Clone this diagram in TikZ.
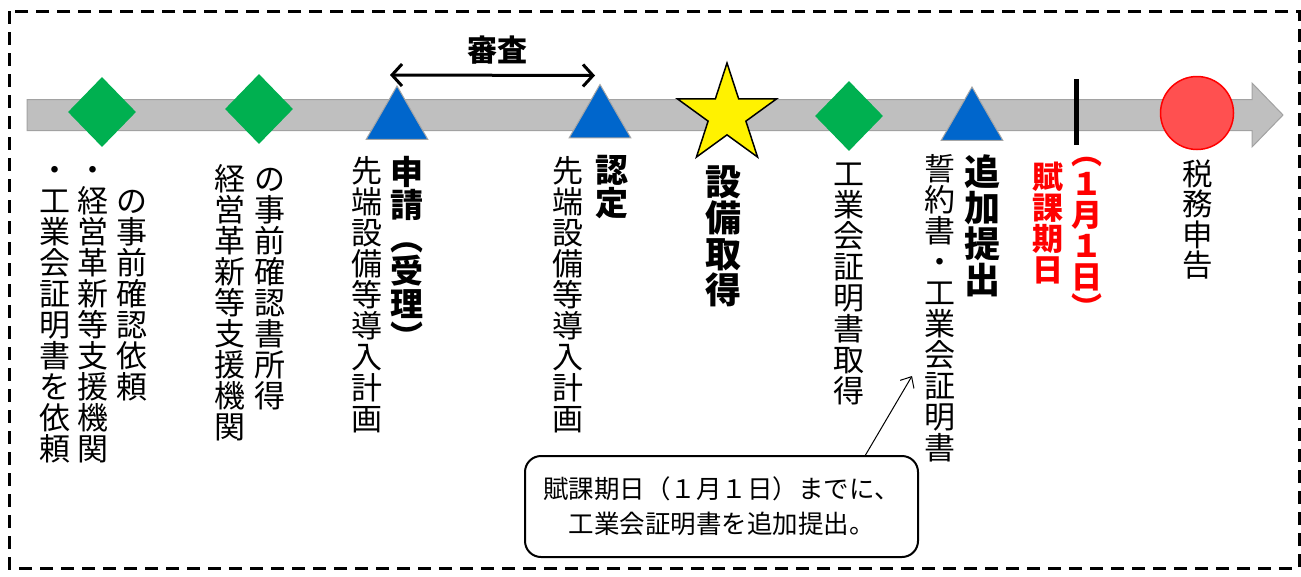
\documentclass[tikz,border=0pt]{standalone}
\usepackage{fontspec}
\setmainfont{Noto Sans CJK JP}
\usepackage{tikz}
\usetikzlibrary{shapes, arrows.meta, calc}
\definecolor{kgreen}{HTML}{00B050}
\definecolor{kblue}{HTML}{0066CC}
\definecolor{kgray}{HTML}{BFBFBF}
\definecolor{kred}{HTML}{FF5050}
\makeatletter
\newcommand{\tate}[1]
{%
	\vbox{\baselineskip=1em\lineskiplimit=-\maxdimen
		\@tfor\tch:=#1\do{\hbox to 1em{\hss\vrule height .88em depth .12em width 0pt\tch\hss}}}%
}
\makeatother

\begin{document}
\begin{tikzpicture}[x=1pt, y=-1pt,
			kakunin/.style={shape=diamond,
				fill=kgreen,
				minimum width=68pt,
				minimum height=70pt,
				inner sep=0},
			sankaku/.style={regular polygon,
				regular polygon sides=3,
				fill=kblue,
				draw=gray!70,
				line width=1pt,
				minimum size=71pt,
				inner sep=0},
			tate/.style={anchor=north,
				inner sep=0,
				font=\fontsize{31}{31}\selectfont},
			tatebf/.style={tate,
				font=\fontsize{33}{33}\selectfont\bfseries},
			tatebig/.style={tate,
				font=\fontsize{36}{36}\selectfont\bfseries},
			fusen/.style={draw=black,
				line width=2pt,
				rounded corners=16pt,
				minimum width=393pt,
				minimum height=101pt,
				align=center,
				font=\fontsize{25.5}{35}\selectfont}]
			
			\useasboundingbox (0,0) rectangle (1301,576);
			\draw[line width=3pt, dash pattern=on 13pt off 8pt] (9,11) rectangle (1299,568);
			
			\draw[fill=kgray, draw=kgray!85!black, line width=1pt] (27,99.5) -- (1252,99.5) -- (1252,83)
				-- (1283,115) -- (1252,147) -- (1252,130.5) -- (27,130.5) -- cycle;
			
			\node[kakunin] at (102, 112) (D1){};
			\node[kakunin] at (259, 109) (D2){};
			\node[sankaku] at (397, 121.5) (T1){};
			\node[sankaku] at (600, 120) (T2){};
			\node[star, star points=5, star point ratio=2.618, minimum size=104pt, inner sep=0,
				fill=yellow, draw=black, line width=1.5pt] at (727, 115) (S){};
			\node[kakunin] at (849, 116) (D3){};
			\node[sankaku] at (972, 122.5) (T3){};
			\node[fill=black, minimum width=5pt, minimum height=66pt, inner sep=0] at (1076, 112) (K){};
			\node[circle, fill=kred, draw=red, line width=1.5pt, minimum size=73pt, inner sep=0] at (1197, 113) (C){};
			
			\draw[line width=3pt, {Straight Barb[length=10pt,width=22pt]}-{Straight Barb[length=10pt,width=22pt]}]
				([shift={(-7,-10)}]T1.north) -- ([shift={(-5,-8)}]T2.north);
			\node[font=\fontsize{30}{30}\selectfont\bfseries] at (497, 50) (shinsa){審査};
			
			\node[tate] at (55, 154) (D1a){\tate{・工業会証明書を依頼}};
			\node[tate] at (93, 154) (D1b){\tate{・経営革新等支援機関}};
			\node[tate] at (132, 185) (D1c){\tate{の事前確認依頼}};
			
			\node[tate] at (230, 163) (D2a){\tate{経営革新等支援機関}};
			\node[tate] at (270, 163) (D2b){\tate{の事前確認書所得}};
			
			\node[tate] at (367, 155) (T1a){\tate{先端設備等導入計画}};
			\node[tatebf] at (407, 155) (T1b){\tate{申請︵受理︶}};
			
			\node[tate] at (568, 155) (T2a){\tate{先端設備等導入計画}};
			\node[tatebf] at (612, 153) (T2b){\tate{認定}};
			
			\node[tatebig] at (723, 164) (Sa){\tate{設備取得}};
			
			\node[tate] at (849, 158) (D3a){\tate{工業会証明書取得}};
			
			\node[tate] at (940, 153) (T3a){\tate{誓約書・工業会証明書}};
			\node[tatebig] at (982, 154) (T3b){\tate{追加提出}};
			
			\node[tatebf, text=red, font=\fontsize{31}{31}\selectfont\bfseries] at (1048, 161) (Ka){\tate{賦課期日}};
			\node[tatebf, text=red, font=\fontsize{31}{31}\selectfont\bfseries] at (1087, 137) (Kb){\tate{︵１月１日︶}};
			
			\node[tate, font=\fontsize{30.5}{30.5}\selectfont] at (1198, 158) (Ca){\tate{税務申告}};
			
			\node[fusen] at (721.5, 506.5) (F){賦課期日（１月１日）までに、\\工業会証明書を追加提出。};
			\coordinate (P) at (912, 376);
			\draw[line width=1pt, -{Straight Barb[length=9pt,width=16pt]}] ([xshift=144pt]F.north) -- (P);
		\end{tikzpicture}
\end{document}
